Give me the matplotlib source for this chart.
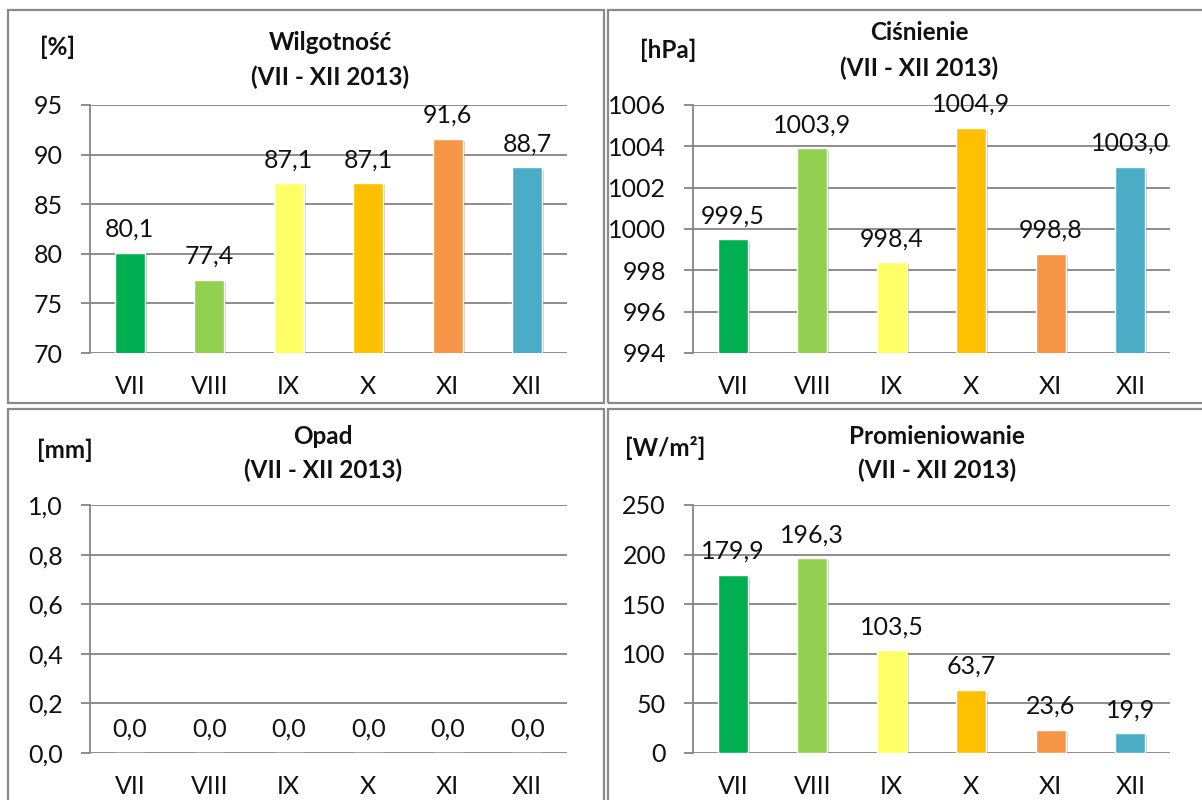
import matplotlib
matplotlib.use("Agg")
import matplotlib.pyplot as plt
import matplotlib.patheffects as pe
from matplotlib.patches import Rectangle
from matplotlib.ticker import FuncFormatter

plt.rcParams["font.family"] = ["Lato", "DejaVu Sans"]

months = ["VII", "VIII", "IX", "X", "XI", "XII"]
bar_colors = ["#00B050", "#92D050", "#FFFF66", "#FFC000", "#F79646", "#4BACC6"]

humidity = [80.1, 77.4, 87.1, 87.1, 91.6, 88.7]
pressure = [999.5, 1003.9, 998.4, 1004.9, 998.8, 1003.0]
precipitation = [0.0, 0.0, 0.0, 0.0, 0.0, 0.0]
radiation = [179.9, 196.3, 103.5, 63.7, 23.6, 19.9]

humidity_ticks = [70, 75, 80, 85, 90, 95]
pressure_ticks = [994, 996, 998, 1000, 1002, 1004, 1006]
precip_ticks = [0.0, 0.2, 0.4, 0.6, 0.8, 1.0]
radiation_ticks = [0, 50, 100, 150, 200, 250]

subtitle = "(VII - XII 2013)"

W, H = 1202, 800
GRID = "#858585"
NUM_SIZE = 18
TITLE_SIZE = 17.5


def fx(x):
    return x / W


def fy(y):
    return 1 - y / H


def comma(v, decimals):
    return f"{v:.{decimals}f}".replace(".", ",")


fig = plt.figure(figsize=(W / 100, H / 100), dpi=100)

# panel frames (pixel coords: x0, y0, x1, y1)
frames = [(8, 10, 604, 403), (608, 10, 1215, 403), (8, 409, 604, 815), (608, 409, 1215, 815)]
for x0, y0, x1, y1 in frames:
    fig.patches.append(Rectangle((fx(x0), fy(y1)), (x1 - x0) / W, (y1 - y0) / H,
                                 transform=fig.transFigure, fill=False,
                                 edgecolor="#8a8a8a", linewidth=1.6))

panels = [
    # values, ticks, tick decimals, unit, title, axes box (left, top, right, bottom px), unit pos, title pos
    (humidity, humidity_ticks, 0, "[%]", "Wilgotność", (90, 105, 567, 353), (40, 47), (330, 42, 77)),
    (pressure, pressure_ticks, 0, "[hPa]", "Ciśnienie", (693, 105, 1170, 353), (640, 50), (919, 33, 68)),
    (precipitation, precip_ticks, 1, "[mm]", "Opad", (90, 505, 567, 753), (37, 450), (323, 437, 470)),
    (radiation, radiation_ticks, 0, "[W/m²]", "Promieniowanie", (693, 505, 1170, 753), (625, 448), (937, 437, 470)),
]

for values, ticks, dec, unit, title, box, upos, tpos in panels:
    left, top, right, bottom = box
    ax = fig.add_axes([fx(left), fy(bottom), (right - left) / W, (bottom - top) / H])
    x = list(range(len(months)))
    bars = ax.bar(x, values, width=0.38, color=bar_colors, edgecolor="white",
                  linewidth=1.0, zorder=3)
    for b in bars:
        b.set_path_effects([pe.SimplePatchShadow(offset=(1.5, -1.5), alpha=0.25), pe.Normal()])
    for xi, v in zip(x, values):
        ax.annotate(comma(v, 1), (xi, max(v, ticks[0])), xytext=(0, 11.5),
                    textcoords="offset points", ha="center", va="baseline",
                    fontsize=NUM_SIZE, color="#111111", zorder=4)
    ax.set_ylim(ticks[0], ticks[-1])
    ax.set_yticks(ticks)
    ax.yaxis.set_major_formatter(FuncFormatter(lambda v, p, d=dec: comma(v, d)))
    ax.set_xlim(-0.5, len(months) - 0.5)
    ax.set_xticks(x)
    ax.set_xticklabels(months)
    ax.grid(axis="y", color=GRID, linewidth=1.3, zorder=0)
    ax.set_axisbelow(True)
    for s in ["top", "right", "bottom"]:
        ax.spines[s].set_visible(False)
    ax.spines["left"].set_color(GRID)
    ax.spines["left"].set_linewidth(1.3)
    ax.tick_params(axis="y", direction="out", length=6.5, width=1.3, color=GRID,
                   pad=13, labelsize=NUM_SIZE, labelcolor="#111111")
    ax.tick_params(axis="x", length=0, pad=16, labelsize=NUM_SIZE, labelcolor="#111111")

    fig.text(fx(upos[0]), fy(upos[1]), unit, ha="left", va="center",
             fontsize=TITLE_SIZE, fontweight="bold", color="#111111")
    fig.text(fx(tpos[0]), fy(tpos[1]), title, ha="center", va="center",
             fontsize=TITLE_SIZE, fontweight="bold", color="#111111")
    fig.text(fx(tpos[0]), fy(tpos[2]), subtitle, ha="center", va="center",
             fontsize=TITLE_SIZE, fontweight="bold", color="#111111")

fig.savefig("out.png", dpi=100)
